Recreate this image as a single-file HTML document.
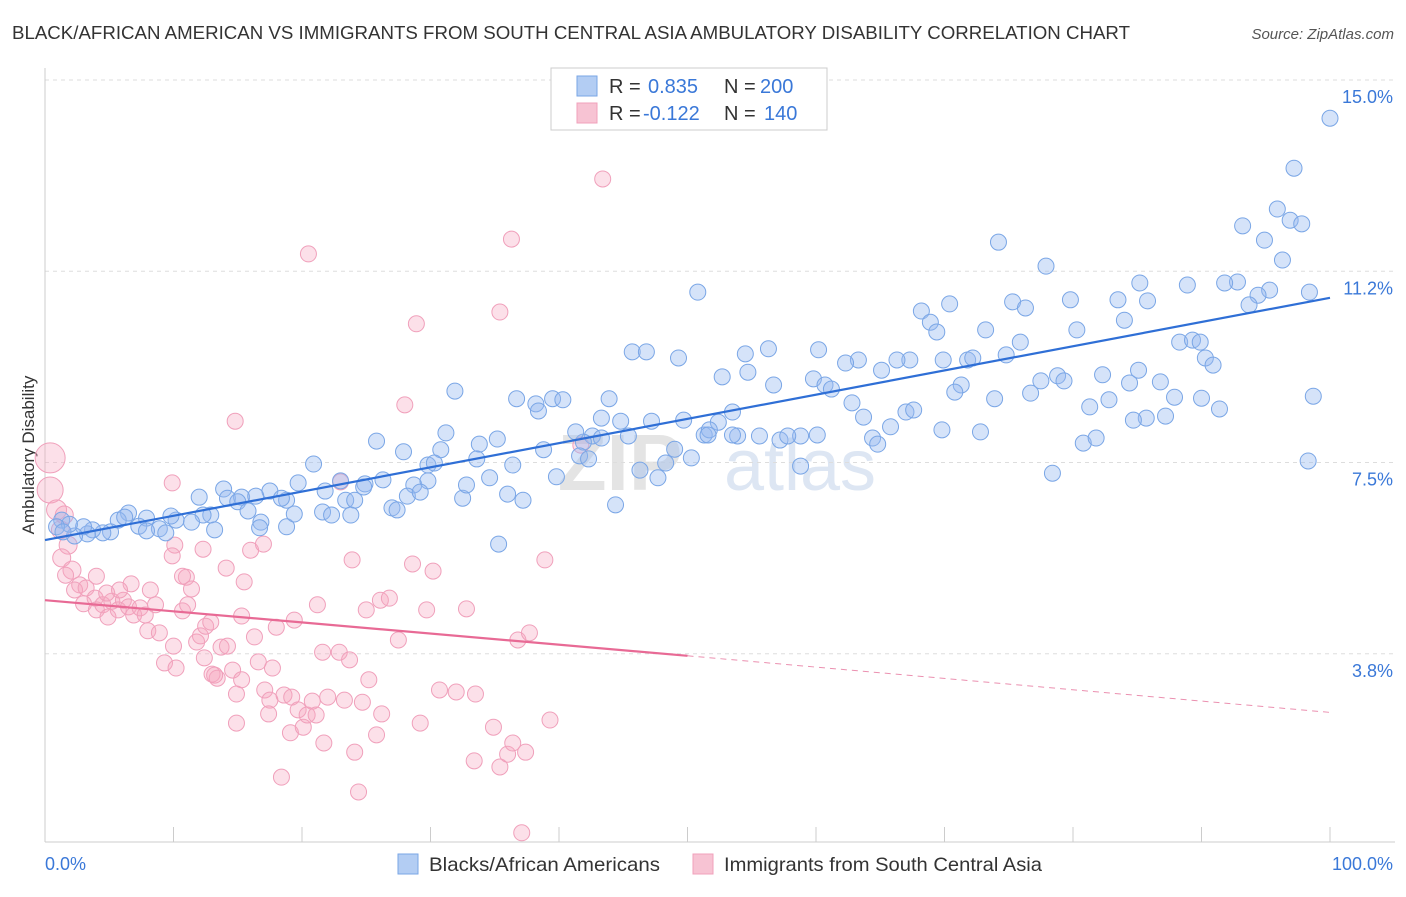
<!DOCTYPE html>
<html><head><meta charset="utf-8">
<style>
body{margin:0;background:#fff;font-family:"Liberation Sans",sans-serif;}
svg text{font-family:"Liberation Sans",sans-serif;}
</style></head>
<body>
<svg id="chart" width="1406" height="892" xmlns="http://www.w3.org/2000/svg">
<text x="12" y="39" font-size="18.5" fill="#333" textLength="1118" lengthAdjust="spacingAndGlyphs">BLACK/AFRICAN AMERICAN VS IMMIGRANTS FROM SOUTH CENTRAL ASIA AMBULATORY DISABILITY CORRELATION CHART</text>
<text x="1394" y="39" font-size="15" fill="#555" font-style="italic" text-anchor="end">Source: ZipAtlas.com</text>
<text x="34" y="455" font-size="17" fill="#333" text-anchor="middle" transform="rotate(-90 34 455)">Ambulatory Disability</text>
<text x="620" y="490" font-size="80" fill="#e4e4e4" font-weight="bold" text-anchor="middle">ZIP</text>
<text x="800" y="490" font-size="72" fill="#dde6f3" text-anchor="middle">atlas</text>
<g id="grid"></g><g id="axes"></g><g id="pinkDots"></g><g id="blueDots"></g><g id="lines"></g>
<g>
<rect x="551" y="68" width="276" height="62" fill="#fff" stroke="#ccc"/>
<rect x="577" y="76" width="20" height="20" fill="#b3cdf3" stroke="#7aa6e6"/>
<rect x="577" y="103" width="20" height="20" fill="#f7c3d3" stroke="#f0a0bb"/>
<text x="609" y="93" font-size="20" fill="#333">R =</text>
<text x="648" y="93" font-size="20" fill="#3a78d8">0.835</text>
<text x="724" y="93" font-size="20" fill="#333">N =</text>
<text x="760" y="93" font-size="20" fill="#3a78d8">200</text>
<text x="609" y="120" font-size="20" fill="#333">R =</text>
<text x="643" y="120" font-size="20" fill="#3a78d8">-0.122</text>
<text x="724" y="120" font-size="20" fill="#333">N =</text>
<text x="764" y="120" font-size="20" fill="#3a78d8">140</text>
</g>
<g>
<rect x="398" y="854" width="20" height="20" fill="#b3cdf3" stroke="#7aa6e6"/>
<text x="429" y="871" font-size="19.5" fill="#333" textLength="231" lengthAdjust="spacingAndGlyphs">Blacks/African Americans</text>
<rect x="693" y="854" width="20" height="20" fill="#f7c3d3" stroke="#f0a0bb"/>
<text x="724" y="871" font-size="19.5" fill="#333" textLength="318" lengthAdjust="spacingAndGlyphs">Immigrants from South Central Asia</text>
</g>
</svg>
<script>
const blueX=[100,97.2,95.9,96.9,97.8,93.2,94.9,96.3,74.2,77.9,92.8,91.8,88.9,85.2,95.3,98.4,94.4,93.7,75.3,76.3,79.8,83.5,85.8,50.8,68.2,70.4,68.9,69.4,73.2,84.0,80.3,88.3,89.3,89.9,90.3,90.9,75.9,74.8,71.8,72.2,69.9,67.3,66.3,63.3,62.3,60.2,56.3,54.5,45.7,46.8,49.3,52.7,54.7,56.7,59.8,60.7,61.2,62.8,65.1,78.8,77.5,79.3,82.3,84.4,86.8,85.1,71.3,70.8,73.9,76.7,81.3,82.8,87.9,90.0,91.4,85.7,84.7,87.2,98.7,31.9,36.7,38.2,39.5,40.3,43.9,38.4,43.3,44.8,47.2,49.7,52.4,53.5,53.9,51.3,51.7,45.4,42.6,43.3,41.9,41.6,42.3,41.3,38.8,35.2,33.8,33.6,31.2,30.8,25.8,27.9,29.8,30.3,20.9,23.0,24.9,26.3,28.7,29.8,19.7,17.5,18.8,21.8,23.4,24.1,24.8,27.0,27.4,28.2,29.2,32.5,32.8,34.6,36.4,36.0,37.2,39.8,44.4,35.3,46.3,47.7,48.3,49.0,50.3,57.2,58.8,60.1,57.8,55.6,53.5,51.6,64.4,64.8,63.7,65.8,67.0,67.6,69.8,72.8,78.4,80.8,81.8,98.3,58.8,13.9,12.0,14.2,15.3,16.4,18.4,15.0,15.8,16.8,18.8,16.7,19.4,21.6,22.3,23.8,12.9,13.2,12.3,11.4,10.2,9.8,8.9,9.4,7.9,7.3,7.9,6.5,5.7,6.2,5.1,4.5,3.7,3.3,3.0,2.3,1.3,1.9,0.9,1.4];
const blueY=[14.25,13.27,12.47,12.25,12.18,12.14,11.86,11.47,11.82,11.35,11.04,11.02,10.98,11.02,10.88,10.84,10.78,10.59,10.65,10.53,10.69,10.69,10.67,10.84,10.47,10.61,10.25,10.06,10.10,10.29,10.10,9.86,9.90,9.86,9.55,9.41,9.86,9.61,9.51,9.55,9.51,9.51,9.51,9.51,9.45,9.71,9.73,9.63,9.67,9.67,9.55,9.18,9.27,9.02,9.14,9.02,8.94,8.67,9.31,9.20,9.10,9.10,9.22,9.06,9.08,9.31,9.02,8.88,8.75,8.86,8.59,8.73,8.78,8.76,8.55,8.37,8.33,8.41,8.80,8.90,8.75,8.65,8.75,8.73,8.75,8.51,8.37,8.31,8.31,8.33,8.29,8.49,8.02,8.04,8.14,8.02,8.02,7.98,7.90,7.63,7.57,8.10,7.75,7.96,7.86,7.57,8.08,7.75,7.92,7.71,7.45,7.49,7.47,7.14,7.08,7.16,7.06,7.14,7.10,6.94,6.76,6.94,6.76,6.76,7.02,6.61,6.57,6.84,6.92,6.80,7.06,7.20,7.45,6.88,6.76,7.22,6.67,5.90,7.35,7.20,7.49,7.76,7.59,7.94,8.02,8.04,8.02,8.02,8.04,8.04,7.98,7.86,8.39,8.20,8.49,8.53,8.14,8.10,7.29,7.88,7.98,7.53,7.43,6.98,6.82,6.80,6.82,6.84,6.80,6.73,6.55,6.33,6.24,6.22,6.49,6.53,6.47,6.47,6.47,6.18,6.47,6.33,6.37,6.45,6.20,6.12,6.41,6.25,6.16,6.51,6.37,6.43,6.14,6.12,6.18,6.10,6.24,6.06,6.37,6.29,6.24,6.14];
const pinkX=[43.4,36.3,20.5,35.4,28.9,28.0,14.8,9.9,23.0,0.4,0.4,0.9,1.5,1.2,1.8,1.3,2.1,1.6,2.7,2.3,3.2,3.9,3.0,4.0,4.5,4.9,5.2,5.7,6.1,6.5,6.7,6.9,7.4,7.8,8.0,8.6,8.2,8.9,9.3,10.0,10.2,10.7,11.1,11.0,11.4,11.8,12.1,12.5,12.9,12.4,13.0,13.4,13.7,14.2,13.2,14.6,15.3,14.9,15.3,15.5,16.0,16.3,16.6,17.1,17.5,17.4,18.0,17.7,18.6,19.1,19.4,19.2,19.7,20.1,20.4,20.8,21.1,21.2,21.6,22.0,21.7,22.9,23.3,23.7,23.9,24.1,24.4,24.7,25.0,25.2,25.8,26.1,26.2,26.8,27.5,28.6,29.2,29.7,30.2,30.7,32.0,32.8,33.4,33.5,34.9,35.4,36.0,36.4,36.8,37.1,37.4,38.9,39.3,37.7,41.7,17.0,14.9,10.7,4.8,4.0,5.8,10.1,9.9,12.3,14.1,18.4];
const pinkY=[13.06,11.88,11.59,10.45,10.22,8.63,8.31,7.10,7.12,7.59,6.96,6.57,6.47,6.18,5.88,5.63,5.39,5.29,5.10,5.00,5.04,4.84,4.73,4.61,4.71,4.47,4.78,4.61,4.80,4.67,5.12,4.51,4.65,4.51,4.20,4.71,5.00,4.16,3.57,3.90,3.47,4.59,4.71,5.25,5.02,3.98,4.10,4.29,4.37,3.67,3.35,3.27,3.88,3.90,3.33,3.43,3.24,2.96,4.49,5.16,5.78,4.08,3.59,3.04,2.84,2.57,4.27,3.47,2.94,2.20,4.41,2.90,2.65,2.31,2.55,2.82,2.55,4.71,3.78,2.90,2.00,3.78,2.84,3.63,5.59,1.82,1.04,2.80,4.61,3.24,2.16,4.80,2.57,4.84,4.02,5.51,2.39,4.61,5.37,3.04,3.00,4.63,1.65,2.96,2.31,1.53,1.78,2.00,4.02,0.24,1.82,5.59,2.45,4.16,7.84,5.90,2.39,5.27,4.94,5.27,5.00,5.88,5.67,5.80,5.43,1.33];
const pinkR=[8,8,8,8,8,8,8,8,8,15,13,10,9,9,9,9,9];
const blueTrend=[5.98,10.73];
const pinkTrend=[4.8,3.71,2.6];
const yTicks=[15.0,11.25,7.5,3.75];
const yTickLabels=["15.0%","11.2%","7.5%","3.8%"];
const xTicks=[0,10,20,30,40,50,60,70,80,90,100];

const NS="http://www.w3.org/2000/svg";
const sx=v=>45+v*12.85;
const sy=v=>80+(15-v)*51;
function mk(tag,attrs,parent){const e=document.createElementNS(NS,tag);for(const k in attrs)e.setAttribute(k,attrs[k]);document.getElementById(parent).appendChild(e);return e;}
yTicks.forEach((t,i)=>{
  const g=mk('line',{x1:45,x2:1395,y1:sy(t),y2:sy(t),stroke:'#ddd','stroke-dasharray':'4,4'},'grid');
  
  
  const tx=mk('text',{x:1393,y:sy(t)+23,'font-size':18,fill:'#3a78d8','text-anchor':'end'},'grid');
  tx.textContent=yTickLabels[i];
  
  
});
const ax=mk('line',{x1:45,x2:45,y1:68,y2:842,stroke:'#ccc'},'axes');


const bx=mk('line',{x1:45,x2:1395,y1:842,y2:842,stroke:'#ccc'},'axes');


xTicks.forEach(t=>{
  const l=mk('line',{x1:sx(t),x2:sx(t),y1:827,y2:842,stroke:'#ccc'},'axes');
  
  
});
const x0=mk('text',{x:45,y:870,'font-size':18,fill:'#3a78d8'},'axes');x0.textContent='0.0%';


const x1=mk('text',{x:1393,y:870,'font-size':18,fill:'#3a78d8','text-anchor':'end'},'axes');x1.textContent='100.0%';


pinkX.forEach((x,i)=>{
  const c=mk('circle',{cx:sx(x),cy:sy(pinkY[i]),r:pinkR[i]||8,fill:'rgba(245,165,192,0.35)',stroke:'#f0a0bb','stroke-width':1},'pinkDots');
  
  
});
blueX.forEach((x,i)=>{
  const c=mk('circle',{cx:sx(x),cy:sy(blueY[i]),r:8,fill:'rgba(150,185,240,0.4)',stroke:'#7aa6e6','stroke-width':1},'blueDots');
  
  
});
const bl=mk('line',{x1:sx(0),y1:sy(blueTrend[0]),x2:sx(100),y2:sy(blueTrend[1]),stroke:'#2f6fd6','stroke-width':2.2},'lines');


const pl=mk('line',{x1:sx(0),y1:sy(pinkTrend[0]),x2:sx(50),y2:sy(pinkTrend[1]),stroke:'#e86a95','stroke-width':2.2},'lines');


const pd=mk('line',{x1:sx(50),y1:sy(pinkTrend[1]),x2:sx(100),y2:sy(pinkTrend[2]),stroke:'#eb90b0','stroke-width':1,'stroke-dasharray':'6,5'},'lines');


</script>
</body></html>
